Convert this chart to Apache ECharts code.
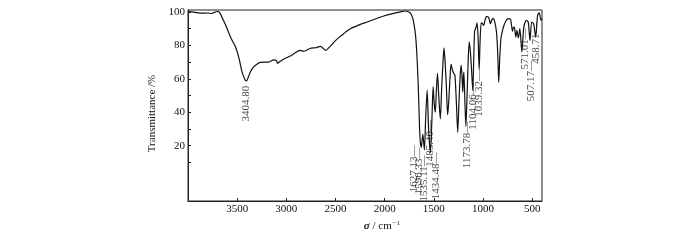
<!DOCTYPE html>
<html>
<head>
<meta charset="utf-8">
<script src="https://cdn.jsdelivr.net/npm/echarts@6/dist/echarts.min.js"></script>
<style>
  html, body { margin: 0; padding: 0; background: #fff; }
  #chart { width: 700px; height: 240px; }
</style>
</head>
<body>
<div id="chart"></div>
<script>
// wavenumber (cm-1) and transmittance (%)
var waveNum = [4000, 3930, 3860, 3800, 3760, 3740, 3700, 3680, 3620, 3560, 3517, 3480, 3450, 3420, 3405, 3390,
  3365, 3330, 3300, 3263, 3180, 3128, 3100, 3090, 3060, 3009, 2941, 2860, 2820, 2754, 2700, 2653, 2630,
  2602, 2570, 2518, 2470, 2433, 2400, 2348, 2260, 2178, 2090, 2009, 1920, 1839, 1788, 1760, 1737, 1715,
  1700, 1686, 1672, 1660, 1650, 1640, 1627, 1612, 1596, 1584, 1568, 1553, 1535, 1520, 1507, 1496, 1485,
  1475, 1463, 1450, 1434, 1420, 1405, 1397, 1385, 1370, 1360, 1350, 1336, 1325, 1310, 1295, 1285, 1270,
  1257, 1245, 1232, 1222, 1212, 1206, 1200, 1195, 1185, 1174, 1162, 1150, 1140, 1128, 1115, 1104, 1095,
  1085, 1070, 1060, 1050, 1039, 1030, 1018, 1005, 992, 980, 965, 950, 941, 930, 924, 912, 897, 880, 863,
  850, 840, 830, 818, 805, 790, 771, 745, 720, 700, 690, 680, 666, 655, 640, 625, 605, 585, 560, 540,
  522, 505, 485, 465, 445, 428, 410, 400];
var transmit = [100.3, 99.8, 99.3, 99.4, 99.1, 99.6, 100.3, 99.8, 92.5, 84, 79.2, 72, 64, 59.5, 58.7, 60.5,
  64.3, 67.3, 68.8, 69.9, 70.0, 71.3, 70.8, 69.3, 70.6, 72.3, 74.3, 77, 76.5, 78.3, 78.6, 79.4, 78.5,
  77.0, 78.5, 81.8, 84.5, 86.2, 87.8, 90.0, 92.3, 94.0, 96, 97.6, 99.0, 100.1, 100.6, 100.2, 99.2, 96.5,
  92, 86, 74, 58, 40, 24, 19, 27, 17.5, 35, 53.3, 30, 15.8, 35, 55.3, 45, 40,
  52, 63.5, 50, 36, 55, 72, 78.5, 70, 52, 38.5, 45, 60, 68.8, 65, 63, 62, 45,
  28, 45, 62, 68.3, 60, 52, 60, 64, 48, 31.5, 50, 72, 82.2, 76, 64, 53, 70,
  88.5, 91, 93.5, 85, 65.5, 82, 93.5, 93, 92, 95, 97.4, 97.2, 96.5, 94, 93, 95, 96.2, 94, 88,
  75, 58, 72, 84, 88, 91.5, 94.2, 96, 95.6, 88.5, 91, 90.5, 85, 89, 84.5, 90, 76, 91, 95, 94,
  83, 94, 93, 85, 98, 99.5, 95, 96];

// peak annotations: text, x position (cm-1) and top of the label (%)
var peakText = ['3404.80', '1627.13', '1596.33', '1535.11', '1485.40', '1434.48',
  '1173.78', '1104.06', '1039.32', '571.01', '507.17', '458.71'];
var peakLabelW = [3405, 1700, 1643, 1592, 1534, 1476, 1155, 1094, 1033, 568, 510, 453];
var peakLabelT = [55.5, 19.8, 18.6, 14, 35, 15.6, 34, 57, 65, 90, 71, 93.4];

var xTicks = [500, 1000, 1500, 2000, 2500, 3000, 3500];
var yTicks = [20, 40, 60, 80, 100];
var yMinorTicks = [10, 20, 30, 40, 50, 60, 70, 80, 90, 100];

var chart = echarts.init(document.getElementById('chart'));
var font = '"Liberation Serif", "Times New Roman", serif';

var spectrum = waveNum.map(function (w, i) { return [w, transmit[i]]; });
var labels = peakLabelW.map(function (w, i) {
  return { value: [w, peakLabelT[i]], name: peakText[i] };
});

chart.setOption({
  animation: false,
  grid: {
    left: 188, right: 158, top: 10, bottom: 39,
    show: true, borderColor: '#222', borderWidth: 1
  },
  xAxis: {
    type: 'value',
    min: 400,
    max: 4000,
    inverse: true,
    name: '{s|σ} / cm{sup|−1}',
    nameLocation: 'middle',
    nameGap: 18,
    nameTextStyle: {
      fontFamily: font, fontSize: 11, color: '#111',
      padding: [0, 0, 0, 34],
      rich: {
        s: { fontFamily: font, fontSize: 11, fontStyle: 'italic', fontWeight: 'bold', color: '#111' },
        sup: { fontFamily: font, fontSize: 7, color: '#111', padding: [0, 0, 6, 1] }
      }
    },
    axisLine: { onZero: false, lineStyle: { color: '#222', width: 1 } },
    axisTick: { inside: true, length: 3, customValues: xTicks, lineStyle: { color: '#222' } },
    axisLabel: {
      customValues: xTicks, fontFamily: font, fontSize: 11, color: '#111', margin: 3,
      formatter: function (v) { return String(v); }
    },
    splitLine: { show: false }
  },
  yAxis: {
    type: 'value',
    min: -13.1,
    max: 101.2,
    name: 'Transmittance /%',
    nameLocation: 'middle',
    nameGap: 24,
    nameTextStyle: { fontFamily: font, fontSize: 11, color: '#111', padding: [0, 16, 0, 0] },
    axisLine: { onZero: false, lineStyle: { color: '#222', width: 1 } },
    axisTick: { inside: true, length: 3, customValues: yMinorTicks, lineStyle: { color: '#222' } },
    axisLabel: {
      customValues: yTicks, fontFamily: font, fontSize: 11, color: '#111', margin: 3,
      formatter: function (v) { return String(v); }
    },
    splitLine: { show: false }
  },
  series: [
    {
      type: 'line',
      data: spectrum,
      showSymbol: false,
      smooth: 0.25,
      lineStyle: { color: '#111', width: 1.2 }
    },
    {
      type: 'scatter',
      data: labels,
      symbolSize: 1,
      itemStyle: { color: 'rgba(0,0,0,0)' },
      label: {
        show: true,
        position: [0, 0],
        rotate: 90,
        align: 'right',
        verticalAlign: 'middle',
        fontFamily: font,
        fontSize: 11,
        color: '#111',
        formatter: function (p) { return p.dataIndex === 0 ? p.name : p.name + '—'; }
      }
    }
  ]
});
</script>
</body>
</html>
